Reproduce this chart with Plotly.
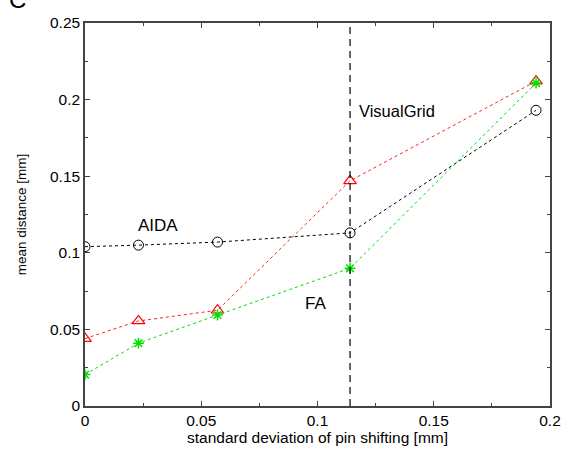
import plotly.graph_objects as go

x_vals = [0.0, 0.023, 0.057, 0.114, 0.194]
aida = [0.104, 0.105, 0.107, 0.113, 0.193]
visualgrid = [0.044, 0.0555, 0.0625, 0.147, 0.212]
fa = [0.0205, 0.041, 0.0594, 0.0899, 0.2108]
vline_x = 0.114

fig = go.Figure()
fig.add_trace(go.Scatter(x=x_vals, y=aida, mode="lines+markers",
                         line=dict(color="black", width=1, dash="dot"),
                         marker=dict(symbol="circle-open", size=10, color="black", line=dict(width=1))))
fig.add_trace(go.Scatter(x=x_vals, y=visualgrid, mode="lines+markers",
                         line=dict(color="#ff2020", width=1, dash="dot"),
                         marker=dict(symbol="triangle-up-open", size=11, color="#ff0000", line=dict(width=1.2))))
fig.add_trace(go.Scatter(x=x_vals, y=fa, mode="lines+markers",
                         line=dict(color="#00e000", width=1, dash="dot"),
                         marker=dict(symbol="asterisk-open", size=9, color="#00e000", line=dict(width=1.5, color="#00e000"))))
fig.add_trace(go.Scatter(x=[vline_x, vline_x], y=[0, 0.25], mode="lines",
                         line=dict(color="black", width=1.2, dash="7px,5px")))

font = "Liberation Sans, Arial, Helvetica, sans-serif"
fig.add_annotation(x=0.0314, y=0.1175, text="AIDA", showarrow=False, font=dict(size=17, color="black"))
fig.add_annotation(x=0.134, y=0.1926, text="VisualGrid", showarrow=False, font=dict(size=16.5, color="black"))
fig.add_annotation(x=0.099, y=0.0666, text="FA", showarrow=False, font=dict(size=17, color="black"))
fig.add_annotation(xref="paper", yref="paper", x=-0.168, y=1.062, xanchor="left", yanchor="middle",
                   text="C", showarrow=False, font=dict(size=24, color="black"))

axis_common = dict(showline=True, linecolor="#444", linewidth=1.5, mirror="ticks",
                   ticks="inside", ticklen=5, tickcolor="#444", showgrid=False, zeroline=False,
                   tickfont=dict(size=15.5, color="black"), automargin=False,
                   minor=dict(ticks="inside", ticklen=3, tickcolor="#444"))

fig.update_xaxes(range=[0, 0.2], tickvals=[0, 0.05, 0.1, 0.15, 0.2],
                 ticktext=["0", "0.05", "0.1", "0.15", "0.2"],
                 title=dict(text="standard deviation of pin shifting [mm]", font=dict(size=15.5, color="black"), standoff=4),
                 minor_dtick=0.025, **axis_common)
fig.update_yaxes(range=[0, 0.25], tickvals=[0, 0.05, 0.1, 0.15, 0.2, 0.25],
                 ticktext=["0", "0.05", "0.1", "0.15", "0.2", "0.25"],
                 title=dict(text="mean distance [mm]", font=dict(size=13.5, color="black"), standoff=20),
                 minor_dtick=0.025, **axis_common)

fig.update_layout(width=562, height=453, showlegend=False,
                  margin=dict(l=85, r=12, t=23, b=47),
                  paper_bgcolor="white", plot_bgcolor="white",
                  font=dict(family=font, color="black"))

fig.write_html("out.html", config={"displayModeBar": False},
               post_script="document.body.style.margin='0';document.body.style.padding='0';")
